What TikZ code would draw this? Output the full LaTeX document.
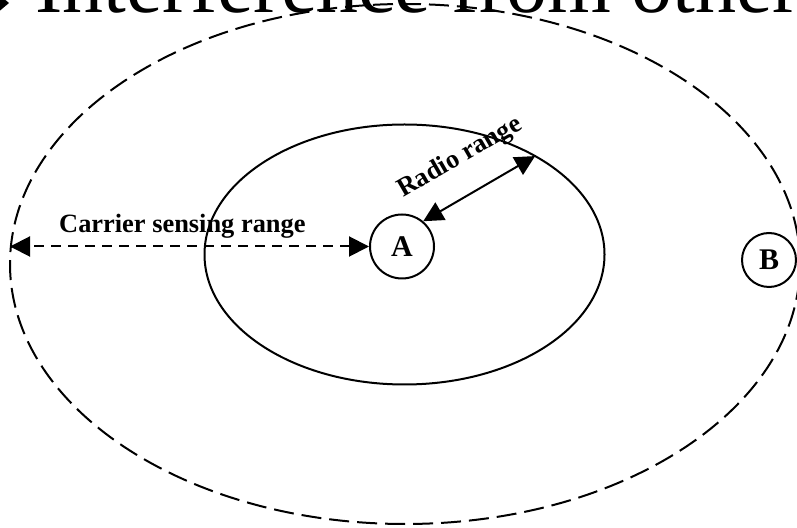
\documentclass[tikz,border=0pt]{standalone}
\usepackage{fontspec}
\setmainfont{Liberation Serif}
\usetikzlibrary{arrows.meta, shapes.geometric}

\begin{document}
\begin{tikzpicture}[
    x=1pt, y=1pt,
    rangering/.style={draw, ellipse, inner sep=0pt, outer sep=0pt, line width=2pt},
    station/.style={draw, circle, line width=2pt, inner sep=0pt, font=\fontsize{30}{30}\selectfont\bfseries},
    rangelabel/.style={inner sep=0pt, font=\fontsize{26.4}{30}\selectfont\bfseries},
    reach/.style={{Triangle[length=20pt, width=20pt]}-{Triangle[length=20pt, width=20pt]}, line width=2pt}
]

    \useasboundingbox (0,0) rectangle (797,527);
    \clip (0,0) rectangle (797,527);

    % --------------------------------------------------------
    % 1. HEADLINE (cut by the top edge)
    % --------------------------------------------------------
    \fill (-10,540) -- (9,524) -- (-10,508) -- cycle;
    \node (title) [anchor=base west, inner sep=0pt, font=\fontsize{82}{82}\selectfont] at (35,514) {Interference from other};

    % --------------------------------------------------------
    % 2. RANGES AND STATIONS
    % --------------------------------------------------------
    \node (sensing) [rangering, dash pattern=on 20pt off 8pt, minimum width=790pt, minimum height=520pt] at (405,263) {};
    \node (radio) [rangering, minimum width=400pt, minimum height=260pt] at (404.5,272.5) {};

    \node (A) [station, minimum size=64pt] at (402,280.5) {A};
    \node (B) [station, minimum size=54pt] at (769,267) {B};

    % --------------------------------------------------------
    % 3. DISTANCES
    % --------------------------------------------------------
    % Carrier sensing range: from A out to the dashed border
    \coordinate (edge) at (10,280.5);
    \draw [reach, dash pattern=on 10pt off 7pt] (A) -- (edge);
    \node (carrier) [rangelabel, anchor=base west] at (59,294) {Carrier sensing range};

    % Radio range: from A out to the solid border
    \draw [reach] (A.50) -- (radio.37);
    \node (radiolabel) [rangelabel, anchor=base west, rotate=30] at (403,329) {Radio range};

\end{tikzpicture}
\end{document}
